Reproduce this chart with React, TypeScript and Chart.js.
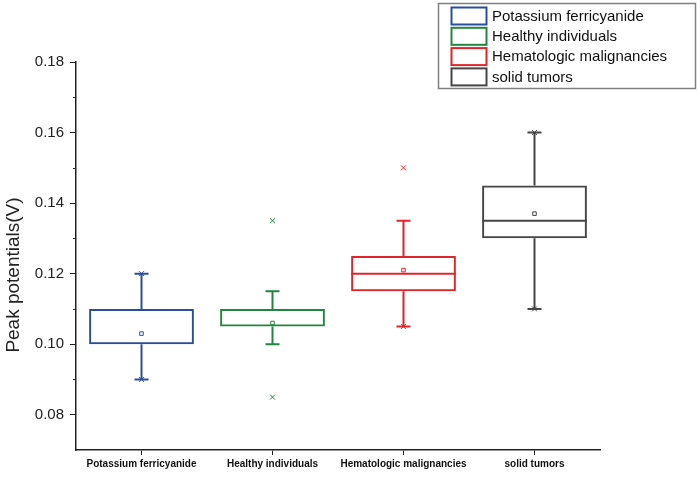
import React, { useEffect, useRef } from 'react';
import { Chart, registerables } from 'chart.js';

Chart.register(...registerables);

const categories = ['Potassium ferricyanide', 'Healthy individuals', 'Hematologic malignancies', 'solid tumors'];
const colors = ['#2a4d9e', '#22863e', '#e0252a', '#454545'];
const q1 = [0.10, 0.105, 0.115, 0.13];
const q3 = [0.11, 0.11, 0.125, 0.145];
const medians = [0.10, 0.11, 0.12, 0.135];
const whiskerLow = [0.09, 0.10, 0.105, 0.11];
const whiskerHigh = [0.12, 0.115, 0.135, 0.16];
const means = [0.103, 0.106, 0.121, 0.137];
const mins = [0.09, 0.085, 0.105, 0.11];
const maxs = [0.12, 0.135, 0.15, 0.16];
const yTickValues = [0.08, 0.09, 0.10, 0.11, 0.12, 0.13, 0.14, 0.15, 0.16, 0.17, 0.18];
const yTitle = 'Peak potentials(V)';

const FONT = "'Liberation Sans', Arial, sans-serif";
const isMajor = (v: number) => Math.round(v * 100) % 2 === 0;

const boxPlugin = {
  id: 'boxExtras',
  afterDatasetsDraw(chart: any) {
    const ctx = chart.ctx;
    const meta = chart.getDatasetMeta(0);
    const y = chart.scales.y;
    ctx.save();
    meta.data.forEach((bar: any, i: number) => {
      const x = bar.x;
      const half = bar.width / 2;
      ctx.strokeStyle = colors[i];
      ctx.lineWidth = 2;
      ctx.lineCap = 'butt';
      // median (skip when it coincides with a box edge)
      if (Math.abs(medians[i] - q1[i]) > 1e-9 && Math.abs(medians[i] - q3[i]) > 1e-9) {
        const ym = y.getPixelForValue(medians[i]);
        ctx.beginPath();
        ctx.moveTo(x - half, ym);
        ctx.lineTo(x + half, ym);
        ctx.stroke();
      }
      // whiskers
      const yq1 = y.getPixelForValue(q1[i]);
      const yq3 = y.getPixelForValue(q3[i]);
      const yl = y.getPixelForValue(whiskerLow[i]);
      const yh = y.getPixelForValue(whiskerHigh[i]);
      ctx.beginPath();
      ctx.moveTo(x, yq3);
      ctx.lineTo(x, yh);
      ctx.moveTo(x, yq1);
      ctx.lineTo(x, yl);
      ctx.moveTo(x - 7, yh);
      ctx.lineTo(x + 7, yh);
      ctx.moveTo(x - 7, yl);
      ctx.lineTo(x + 7, yl);
      ctx.stroke();
    });
    ctx.restore();
  },
  afterDraw(chart: any) {
    const ctx = chart.ctx;
    const area = chart.chartArea;
    const y = chart.scales.y;
    ctx.save();
    // minor ticks
    ctx.strokeStyle = '#222';
    ctx.lineWidth = 1;
    yTickValues.filter((v) => !isMajor(v)).forEach((v) => {
      const py = Math.round(y.getPixelForValue(v)) + 0.5;
      ctx.beginPath();
      ctx.moveTo(area.left - 3, py);
      ctx.lineTo(area.left, py);
      ctx.stroke();
    });
    // y title
    ctx.fillStyle = '#222';
    ctx.font = `19px ${FONT}`;
    ctx.textAlign = 'center';
    ctx.textBaseline = 'middle';
    ctx.translate(14, 275);
    ctx.rotate(-Math.PI / 2);
    ctx.fillText(yTitle, 0, 0);
    ctx.restore();

    // legend
    ctx.save();
    ctx.strokeStyle = '#808080';
    ctx.lineWidth = 1.5;
    ctx.strokeRect(438.5, 3.5, 257, 85);
    ctx.font = `15px ${FONT}`;
    ctx.textAlign = 'left';
    ctx.textBaseline = 'middle';
    categories.forEach((label, i) => {
      const top = 7.5 + i * 20.3;
      ctx.strokeStyle = colors[i];
      ctx.lineWidth = 2;
      ctx.strokeRect(451.5, top, 35, 17);
      ctx.fillStyle = '#111';
      ctx.fillText(label, 492, top + 9);
    });
    ctx.restore();
  },
};

export default function App() {
  const ref = useRef<HTMLCanvasElement | null>(null);
  useEffect(() => {
    if (!ref.current) return;
    const chart = new Chart(ref.current, {
      type: 'bar',
      data: {
        labels: categories,
        datasets: [
          {
            type: 'bar',
            data: q1.map((v, i) => [v, q3[i]]) as any,
            backgroundColor: 'rgba(255,255,255,0)',
            borderColor: colors,
            borderWidth: 2,
            borderSkipped: false,
            categoryPercentage: 1,
            barPercentage: 0.8,
          } as any,
          {
            type: 'line',
            data: means,
            showLine: false,
            pointStyle: 'rect',
            pointRadius: 2.5,
            pointBorderWidth: 1,
            pointBorderColor: colors,
            pointBackgroundColor: '#fff',
          } as any,
          {
            type: 'line',
            data: mins,
            showLine: false,
            pointStyle: 'crossRot',
            pointRadius: 3.5,
            pointBorderWidth: 1,
            pointBorderColor: colors,
          } as any,
          {
            type: 'line',
            data: maxs,
            showLine: false,
            pointStyle: 'crossRot',
            pointRadius: 3.5,
            pointBorderWidth: 1,
            pointBorderColor: colors,
          } as any,
        ],
      },
      options: {
        animation: false,
        responsive: false,
        maintainAspectRatio: false,
        layout: { padding: { top: 62, right: 100, left: 0, bottom: 0 } },
        plugins: { legend: { display: false }, tooltip: { enabled: false } },
        scales: {
          x: {
            type: 'category',
            offset: true,
            grid: {
              display: true,
              drawOnChartArea: false,
              drawTicks: true,
              tickLength: 5,
              offset: false,
              color: '#222',
              tickColor: '#222',
            },
            border: { display: true, color: '#222', width: 1.5 },
            ticks: {
              autoSkip: false,
              maxRotation: 0,
              padding: 3,
              color: '#111',
              font: { family: FONT, size: 10, weight: 'bold' },
            },
            afterFit: (s: any) => {
              s.height = 27;
            },
          },
          y: {
            type: 'linear',
            min: 0.07,
            max: 0.18,
            afterBuildTicks: (s: any) => {
              s.ticks = yTickValues.map((v) => ({ value: v }));
            },
            grid: {
              display: true,
              drawOnChartArea: false,
              drawTicks: true,
              tickLength: 6,
              color: (c: any) => (c.tick && isMajor(c.tick.value) ? '#222' : 'rgba(0,0,0,0)'),
              tickColor: (c: any) => (c.tick && isMajor(c.tick.value) ? '#222' : 'rgba(0,0,0,0)'),
            },
            border: { display: true, color: '#222', width: 1.5 },
            ticks: {
              padding: 6,
              color: '#222',
              font: { family: FONT, size: 15 },
              callback: (v: any) => (isMajor(Number(v)) ? Number(v).toFixed(2) : ''),
            },
            afterFit: (s: any) => {
              s.width = 76;
            },
          },
        },
      } as any,
      plugins: [boxPlugin],
    });
    return () => chart.destroy();
  }, []);
  return (
    <div style={{ position: 'fixed', left: 0, top: 0, width: 700, height: 477, background: '#fff' }}>
      <canvas ref={ref} width={700} height={477} style={{ display: 'block', width: 700, height: 477 }} />
    </div>
  );
}
